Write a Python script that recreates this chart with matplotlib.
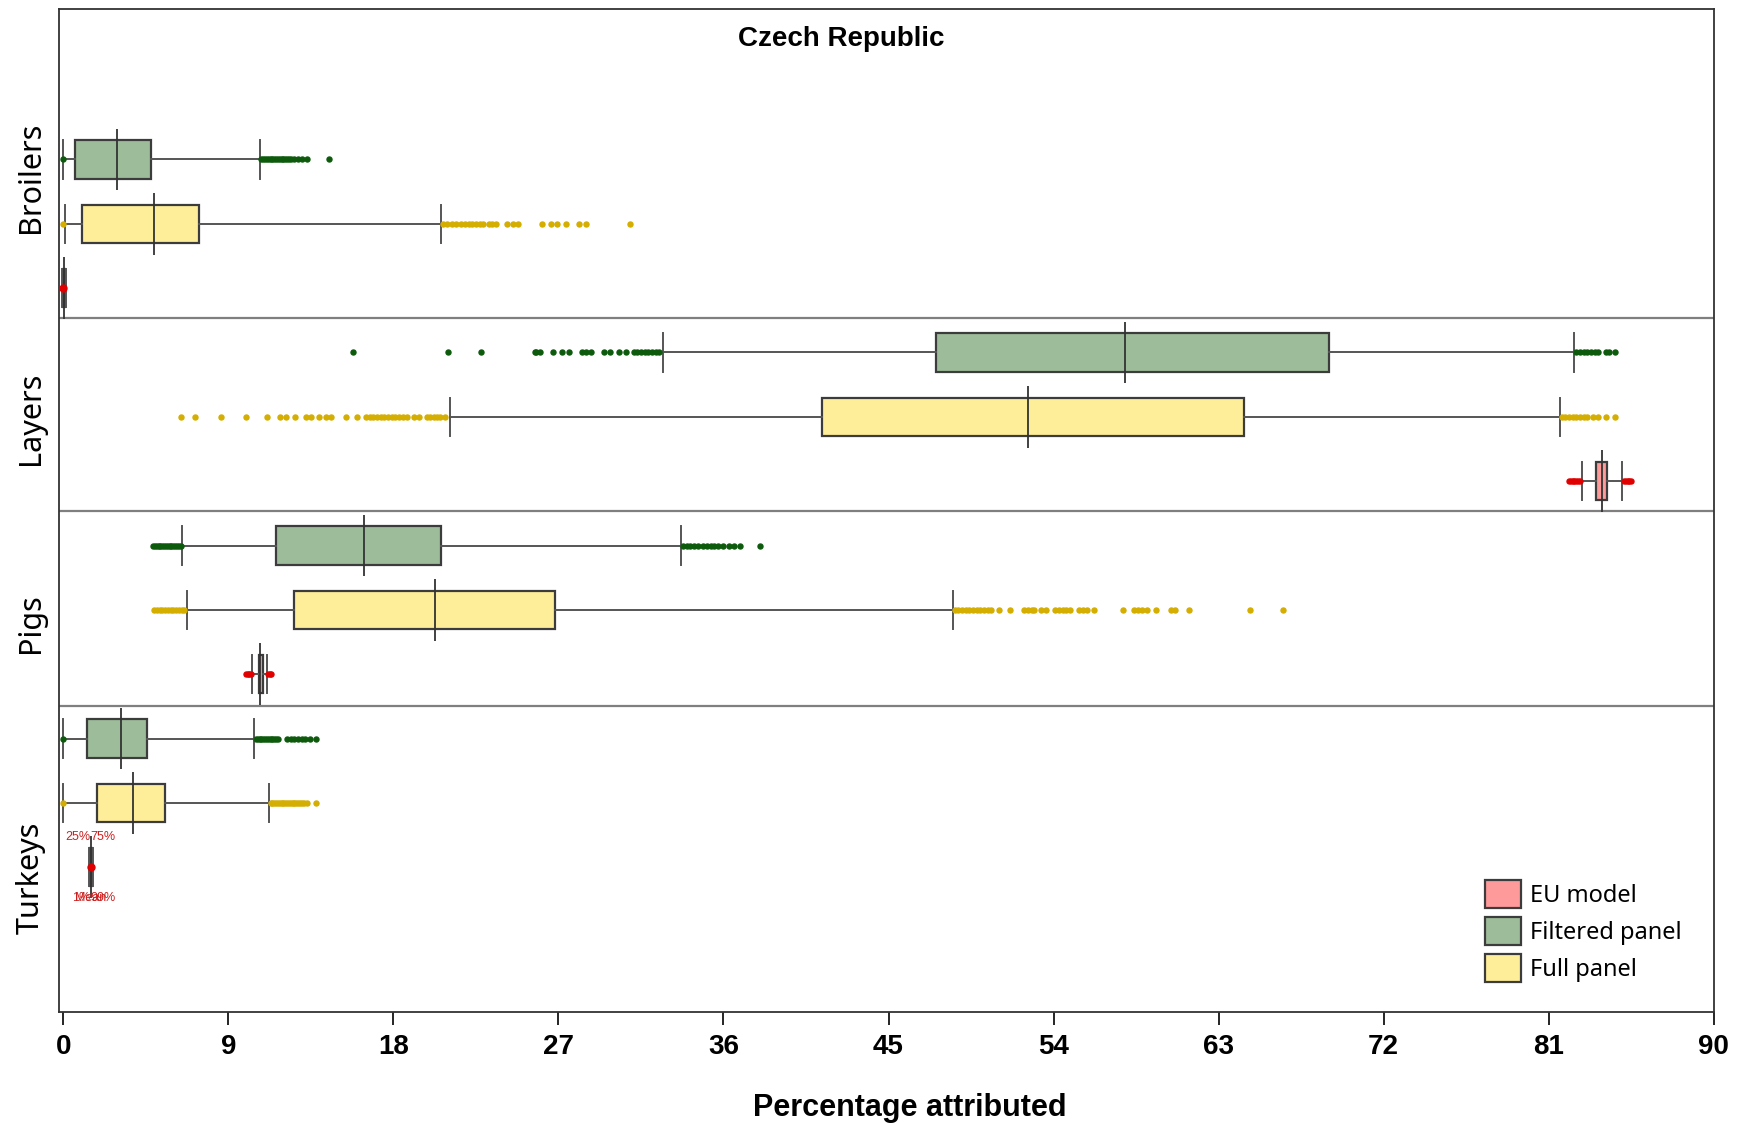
import matplotlib.pyplot as plt
from matplotlib.patches import Patch

plt.rcParams['font.family'] = ['Noto Sans', 'DejaVu Sans']
NARROW = ['Liberation Sans Narrow', 'Liberation Sans', 'DejaVu Sans']

species = ["Broilers", "Layers", "Pigs", "Turkeys"]
xticks = [0, 9, 18, 27, 36, 45, 54, 63, 72, 81, 90]

# (whislo, q1, median, q3, whishi) for each species
filtered_stats = [
    (0.0, 0.65, 2.95, 4.8, 10.7),
    (32.7, 47.6, 57.9, 69.0, 82.4),
    (6.46, 11.6, 16.4, 20.6, 33.7),
    (0.0, 1.28, 3.15, 4.55, 10.4),
]
full_stats = [
    (0.1, 1.0, 4.95, 7.4, 20.6),
    (21.1, 41.4, 52.6, 64.4, 81.6),
    (6.74, 12.6, 20.25, 26.8, 48.5),
    (0.0, 1.82, 3.82, 5.55, 11.2),
]
eu_stats = [
    (-0.05, 0.0, 0.05, 0.1, 0.15),
    (82.8, 83.6, 83.9, 84.2, 85.0),
    (10.3, 10.66, 10.75, 10.9, 11.1),
    (1.42, 1.46, 1.5, 1.56, 1.6),
]

filtered_fliers = [
    [0.0, 10.8, 10.9, 11.0, 11.1, 11.2, 11.3, 11.4, 11.5, 11.6, 11.7, 11.8,
     11.9, 12.0, 12.1, 12.2, 12.3, 12.4, 12.6, 12.8, 13.0, 13.3, 14.5],
    [15.8, 21.0, 22.8, 25.7, 25.8, 26.0, 26.7, 27.2, 27.6, 28.3, 28.5, 28.8,
     29.5, 29.8, 30.3, 30.7, 31.1, 31.3, 31.5, 31.7, 31.9, 32.1, 32.3, 32.5,
     82.5, 82.7, 82.9, 83.1, 83.3, 83.5, 83.7, 84.1, 84.3, 84.6],
    [4.9, 5.0, 5.1, 5.2, 5.3, 5.4, 5.5, 5.6, 5.7, 5.8, 5.9, 6.0, 6.1, 6.2,
     6.3, 6.4, 33.8, 34.0, 34.2, 34.4, 34.6, 34.9, 35.1, 35.3, 35.5, 35.7,
     36.0, 36.3, 36.6, 36.9, 38.0],
    [0.0, 10.5, 10.6, 10.7, 10.8, 10.9, 11.0, 11.1, 11.2, 11.3, 11.4, 11.5,
     11.6, 11.7, 12.2, 12.4, 12.6, 12.8, 13.0, 13.2, 13.45, 13.8],
]
full_fliers = [
    [0.0, 20.7, 20.9, 21.2, 21.4, 21.7, 21.9, 22.1, 22.3, 22.5, 22.7, 22.9,
     23.2, 23.4, 23.6, 24.2, 24.5, 24.8, 26.1, 26.6, 26.9, 27.4, 28.1, 28.5,
     30.9],
    [6.41, 7.19, 8.6, 9.97, 11.09, 11.82, 12.15, 12.64, 13.22, 13.49, 13.97,
     14.33, 14.6, 15.42, 16.0, 16.5, 16.7, 16.9, 17.1, 17.3, 17.5, 17.7, 17.9,
     18.1, 18.3, 18.5, 18.76, 19.14, 19.41, 19.82, 20.0, 20.2, 20.4, 20.55,
     20.82, 81.7, 81.9, 82.1, 82.3, 82.5, 82.7, 82.9, 83.1, 83.4, 83.7, 84.1,
     84.6],
    [4.95, 5.1, 5.25, 5.4, 5.55, 5.7, 5.85, 6.0, 6.15, 6.3, 6.45, 6.6, 48.6,
     48.8, 49.0, 49.2, 49.4, 49.6, 49.8, 50.0, 50.2, 50.4, 50.6, 51.0, 51.6,
     52.4, 52.6, 52.8, 52.95, 53.3, 53.6, 54.1, 54.3, 54.5, 54.7, 54.9, 55.4,
     55.6, 55.8, 56.2, 57.8, 58.4, 58.6, 58.8, 59.1, 59.6, 60.4, 60.6, 61.4,
     64.7, 66.5],
    [0.0, 11.3, 11.4, 11.5, 11.6, 11.7, 11.8, 11.9, 12.0, 12.1, 12.2, 12.3,
     12.4, 12.5, 12.6, 12.7, 12.8, 12.9, 13.0, 13.1, 13.3, 13.8],
]
eu_fliers = [
    [],
    [82.1, 82.2, 82.3, 82.4, 82.5, 82.6, 82.7, 85.1, 85.2, 85.3, 85.4, 85.5],
    [9.95, 10.05, 10.15, 10.25, 11.15, 11.25, 11.35],
    [],
]
eu_means = [0.0, None, None, 1.5]

GREEN, YELLOW, PINK = '#9dbd9a', '#ffee99', '#ff9a9a'
EDGE = '#3c3c3c'

fig = plt.figure(figsize=(17.37, 11.23), dpi=100)
ax = fig.add_axes([0.0338, 0.0986, 0.9528, 0.8935])

groups = [
    (filtered_stats, filtered_fliers, GREEN, '#0d5a0d', 0),
    (full_stats, full_fliers, YELLOW, '#d4ae00', 1),
    (eu_stats, eu_fliers, PINK, '#e00000', 2),
]

for stats, fliers, face, dot, offset in groups:
    boxes = [dict(whislo=lo, q1=q1, med=med, q3=q3, whishi=hi, fliers=fl)
             for (lo, q1, med, q3, hi), fl in zip(stats, fliers)]
    positions = [3 * i + offset for i in range(len(species))]
    art = ax.bxp(boxes, positions=positions, widths=0.6, capwidths=0.6,
                 orientation='horizontal', patch_artist=True, manage_ticks=False,
                 boxprops=dict(facecolor=face, edgecolor=EDGE, linewidth=1.6),
                 whiskerprops=dict(color='#555555', linewidth=1.4),
                 capprops=dict(color='#555555', linewidth=1.4),
                 medianprops=dict(color='#333333', linewidth=1.3),
                 flierprops=dict(marker='o', markersize=3.6, markerfacecolor=dot,
                                 markeredgecolor=dot, linestyle='none'))
    # median marker runs the full row height
    for m in art['medians']:
        y0, y1 = m.get_ydata()
        c = (y0 + y1) / 2
        m.set_ydata([c - 0.48, c + 0.48])

for i, mean in enumerate(eu_means):
    if mean is not None:
        ax.plot(mean, 3 * i + 2, 'o', color='#e00000', markersize=5, zorder=5)

# percentile labels on the collapsed turkey box
lab_kw = dict(color='#cc2020', fontsize=9, family=['Liberation Sans', 'DejaVu Sans'],
              va='center')
ax.text(1.5, 10.53, "25%", ha='right', **lab_kw)
ax.text(1.5, 10.53, "75%", ha='left', **lab_kw)
ax.text(1.5, 11.48, "1%", ha='right', **lab_kw)
ax.text(1.5, 11.48, "Mean", ha='center', **lab_kw)
ax.text(1.5, 11.48, "99%", ha='left', **lab_kw)

for y in [2.46, 5.47, 8.49]:
    ax.axhline(y, color='#7f7f7f', linewidth=1.6)

ax.set_xlim(-0.25, 90)
ax.set_ylim(13.255, -2.341)
ax.set_yticks([])
ax.set_xticks(xticks)
ax.set_xticklabels([str(t) for t in xticks], family=NARROW, fontweight='bold',
                   fontsize=20)
ax.tick_params(axis='x', direction='out', length=9, width=1.2, pad=7)
for s in ax.spines.values():
    s.set_color('#333333')
    s.set_linewidth(1.3)

yt = ax.get_yaxis_transform()
for name, yrow in zip(species, [0.275, 4.03, 7.21, 11.17]):
    ax.text(-0.0167, yrow, name, rotation=90, transform=yt, ha='center',
            va='center', fontsize=22)

ax.text(0.473, -1.88, "Czech Republic", transform=yt, ha='center', va='center',
        fontsize=20, fontweight='bold', family=NARROW)

fig.text(0.5236, 0.0138, "Percentage attributed", ha='center', va='center',
         fontsize=22, fontweight='bold', family=NARROW)

handles = [Patch(facecolor=PINK, edgecolor=EDGE, linewidth=1.6, label='EU model'),
           Patch(facecolor=GREEN, edgecolor=EDGE, linewidth=1.6, label='Filtered panel'),
           Patch(facecolor=YELLOW, edgecolor=EDGE, linewidth=1.6, label='Full panel')]
fig.legend(handles=handles, loc='upper left', bbox_to_anchor=(0.8552, 0.216),
           frameon=False, fontsize=17, handlelength=1.5, handleheight=1.4,
           handletextpad=0.4, labelspacing=0.4, borderpad=0, borderaxespad=0)

fig.savefig('out.png', dpi=100)
